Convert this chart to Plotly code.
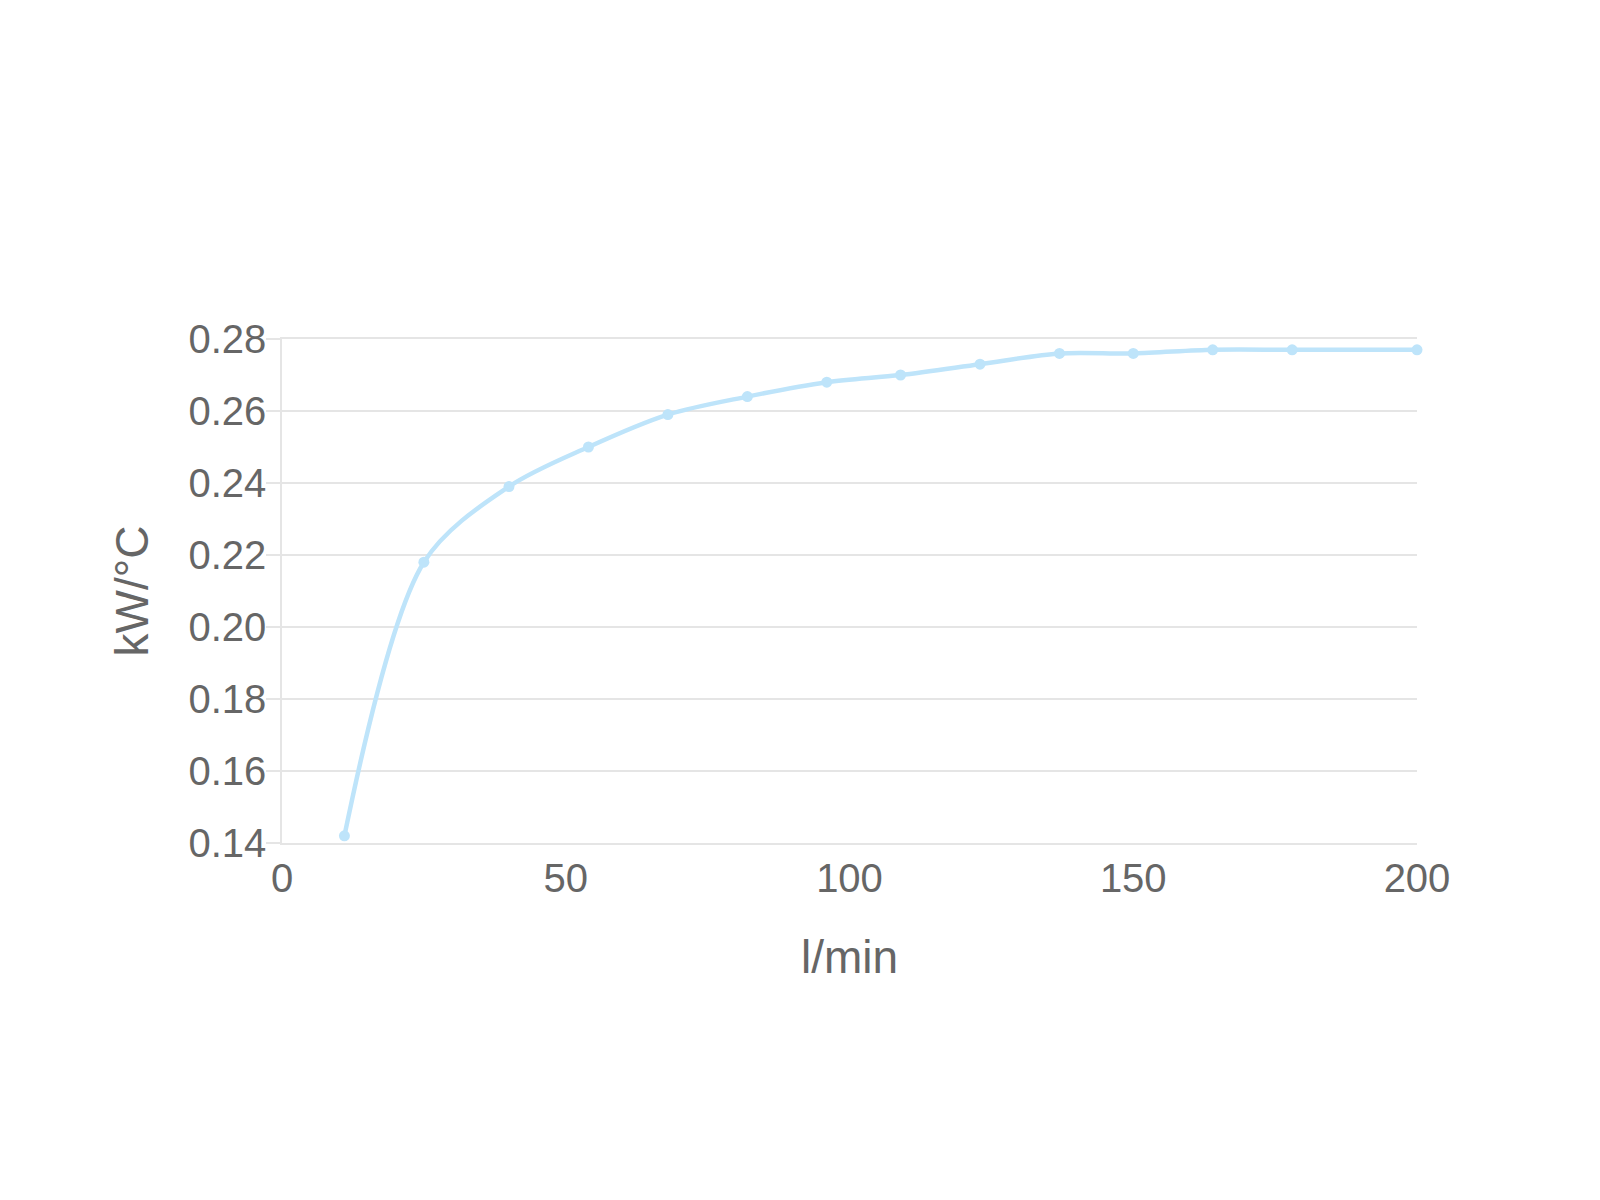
import plotly.graph_objects as go

flow_lpm = [11, 25, 40, 54, 68, 82, 96, 109, 123, 137, 150, 164, 178, 200]
kw_per_c = [0.142, 0.218, 0.239, 0.250, 0.259, 0.264, 0.268, 0.270, 0.273, 0.276, 0.276, 0.277, 0.277, 0.277]

x_ticks = [0, 50, 100, 150, 200]
y_ticks = [0.14, 0.16, 0.18, 0.20, 0.22, 0.24, 0.26, 0.28]

line_color = 'rgb(190,228,250)'
grid_color = '#e5e5e5'
font_color = '#666666'

fig = go.Figure(go.Scatter(
    x=flow_lpm, y=kw_per_c, mode='lines+markers',
    line=dict(color=line_color, width=4.5, shape='spline', smoothing=0.9),
    marker=dict(color=line_color, size=11),
    showlegend=False, cliponaxis=False))

fig.update_layout(
    width=1600, height=1200,
    margin=dict(l=274, r=191, t=331, b=365),
    paper_bgcolor='white', plot_bgcolor='white',
    font=dict(family='Liberation Sans, Arial, sans-serif', color=font_color, size=40))

# top and bottom edges stand in for the 0.28 / 0.14 grid lines
fig.update_xaxes(
    range=[0, 200], tickvals=x_ticks, showgrid=False, zeroline=False,
    showline=True, mirror=True, linecolor=grid_color, linewidth=1.5,
    ticks='', ticklabelstandoff=-1,
    title=dict(text='l/min', font=dict(size=46), standoff=42),
    automargin=False)

fig.update_yaxes(
    range=[0.14, 0.28], tickvals=y_ticks, tickformat='.2f',
    showgrid=True, gridcolor=grid_color, gridwidth=1.5,
    zeroline=False, showline=True, linecolor=grid_color, linewidth=1.5,
    ticks='outside', ticklen=14, tickcolor=grid_color, tickwidth=1.5,
    ticklabelstandoff=-8,
    title=dict(text='kW/°C', font=dict(size=46), standoff=25),
    automargin=False)

fig.write_html("out.html")
